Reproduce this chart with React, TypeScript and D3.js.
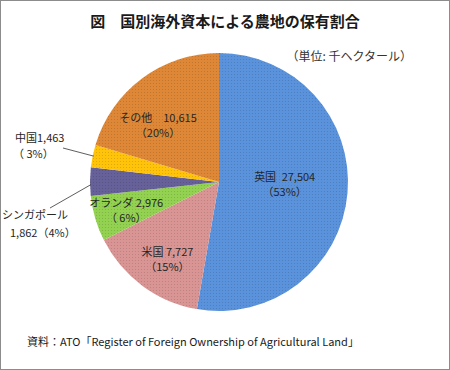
import React, { useMemo } from 'react'
import * as d3 from 'd3'

// 国別海外資本による農地の保有（千ヘクタール）
const categories = ['英国', '米国', 'オランダ', 'シンガポール', '中国', 'その他']
const values = [27504, 7727, 2976, 1862, 1463, 10615]
const percents = ['53%', '15%', ' 6%', '4%', ' 3%', '20%']
const colors = ['#5a93dc', '#d99594', '#93d151', '#67619a', '#ffc30a', '#de8737']

const title = '図　国別海外資本による農地の保有割合'
const unitNote = '（単位: 千ヘクタール）'
const sourceNote = '資料：ATO「Register of Foreign Ownership of Agricultural Land」'

const W = 450
const H = 370
const cx = 219
const cy = 182
const R = 129
const FONT = '"Noto Sans CJK JP", "Noto Sans", sans-serif'

// ラベル位置の調整（重心からのずれ）
const labelLayout: Record<string, { r: number; dx: number; dy: number; gap: string }> = {
  英国: { r: 0.55, dx: -5, dy: -4, gap: '\u2002' },
  米国: { r: 0.75, dx: 6, dy: -1, gap: ' ' },
  オランダ: { r: 0.75, dx: 0, dy: 1, gap: ' ' },
  その他: { r: 0.65, dx: -11, dy: 10, gap: '　' },
}

const fmt = d3.format(',')

export default function App() {
  const arcs = useMemo(() => {
    const pie = d3.pie<number>().sort(null).value(d => d)
    return pie(values)
  }, [])

  const arc = d3.arc<d3.PieArcDatum<number>>().innerRadius(0).outerRadius(R)

  const pointAt = (a: d3.PieArcDatum<number>, r: number) => {
    const mid = (a.startAngle + a.endAngle) / 2
    return [Math.sin(mid) * r, -Math.cos(mid) * r]
  }

  return (
    <svg width={W} height={H} style={{ position: 'absolute', left: 0, top: 0, background: '#fff' }}>
      <defs>
        <pattern id="dots" width="3" height="3" patternUnits="userSpaceOnUse">
          <rect x="0" y="0" width="1" height="1" fill="#000" fillOpacity="0.13" />
        </pattern>
      </defs>
      <rect x={0.5} y={0.5} width={W - 1} height={H - 1} fill="#fff" stroke="#8c8c8c" />

      <text x={225} y={27} textAnchor="middle" fontFamily={FONT} fontSize={15} fontWeight="bold" fill="#1a1a1a">
        {title}
      </text>
      <text x={412} y={61} textAnchor="end" fontFamily={FONT} fontSize={12} fill="#333">
        {unitNote}
      </text>

      <g transform={`translate(${cx},${cy})`}>
        {arcs.map((a, i) => (
          <g key={categories[i]}>
            <path d={arc(a) ?? ''} fill={colors[i]} />
            <path d={arc(a) ?? ''} fill="url(#dots)" />
          </g>
        ))}

        {arcs.map((a, i) => {
          const name = categories[i]
          const lay = labelLayout[name]
          if (!lay) return null
          const [x, y] = pointAt(a, R * lay.r)
          const lx = x + lay.dx
          const ly = y + lay.dy
          return (
            <text key={name} fontFamily={FONT} fontSize={11} fill="#262626" textAnchor="middle">
              <tspan x={lx} y={ly - 3}>
                {name}
                {lay.gap}
                {fmt(values[i])}
              </tspan>
              <tspan x={lx} y={ly + 12}>（{percents[i]}）</tspan>
            </text>
          )
        })}

        {/* 外側ラベル（引き出し線） */}
        {arcs.map((a, i) => {
          const name = categories[i]
          if (name !== '中国' && name !== 'シンガポール') return null
          const [ex, ey] = pointAt(a, R - 1)
          if (name === '中国') {
            return (
              <g key={name}>
                <line x1={63 - cx} y1={148 - cy} x2={ex} y2={ey} stroke="#333" strokeWidth={0.8} />
                <text fontFamily={FONT} fontSize={11} fill="#262626">
                  <tspan x={15 - cx} y={142 - cy}>
                    {name}
                    {fmt(values[i])}
                  </tspan>
                  <tspan x={13 - cx} y={158 - cy}>（{percents[i]}）</tspan>
                </text>
              </g>
            )
          }
          return (
            <g key={name}>
              <line x1={50 - cx} y1={208 - cy} x2={ex} y2={ey + 3} stroke="#333" strokeWidth={0.8} />
              <text fontFamily={FONT} fontSize={11} fill="#262626">
                <tspan x={2 - cx} y={219 - cy}>{name}</tspan>
                <tspan x={10 - cx} y={237 - cy}>
                  {fmt(values[i])}（{percents[i]}）
                </tspan>
              </text>
            </g>
          )
        })}
      </g>

      <text x={27} y={346} fontFamily={FONT} fontSize={11} fill="#1a1a1a">
        {sourceNote}
      </text>
    </svg>
  )
}
